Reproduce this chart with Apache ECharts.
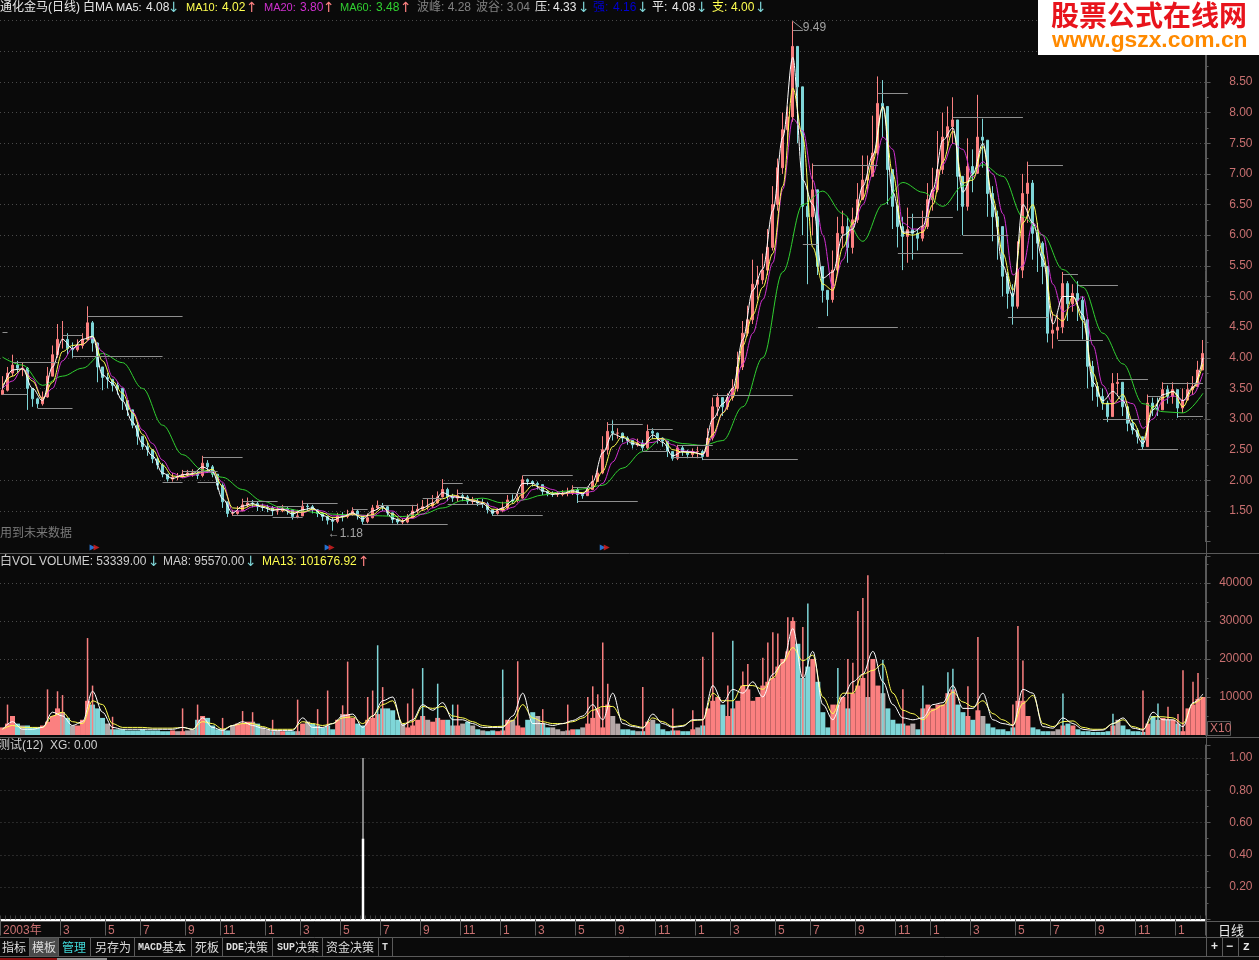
<!DOCTYPE html>
<html><head><meta charset="utf-8">
<script src="https://cdn.jsdelivr.net/npm/echarts@6/dist/echarts.min.js"></script>
<style>html,body{margin:0;padding:0;background:#0a0a0a}#c{width:1259px;height:960px}</style></head>
<body><div id="c"></div>
<script>
// Each bar stands for about five trading days' width of the picture; values read from it.
const closes=[3.47,3.75,3.88,3.83,3.83,3.5,3.33,3.25,3.36,3.7,
4.05,4.3,4.3,4.15,4.13,4.2,4.3,4.57,4.24,3.85,
3.68,3.65,3.55,3.5,3.3,3.15,2.9,2.72,2.55,2.5,
2.35,2.25,2.1,2.02,2.05,2.06,2.1,2.12,2.12,2.08,
2.28,2.22,2.1,1.92,1.65,1.46,1.46,1.5,1.6,1.63,
1.62,1.57,1.56,1.55,1.5,1.5,1.54,1.52,1.41,1.42,
1.58,1.57,1.52,1.46,1.41,1.35,1.33,1.42,1.41,1.44,
1.5,1.42,1.33,1.39,1.55,1.59,1.57,1.47,1.36,1.32,
1.32,1.39,1.5,1.53,1.57,1.58,1.63,1.73,1.85,1.73,
1.71,1.75,1.73,1.66,1.66,1.63,1.62,1.52,1.46,1.5,
1.55,1.68,1.67,1.71,2.01,1.98,1.95,1.93,1.82,1.79,
1.77,1.77,1.79,1.79,1.85,1.77,1.75,1.85,1.98,2.12,
2.5,2.8,2.77,2.77,2.69,2.65,2.58,2.61,2.53,2.8,
2.77,2.69,2.64,2.47,2.36,2.53,2.47,2.42,2.47,2.47,
2.39,2.69,3.2,3.35,3.2,3.35,3.5,3.85,4.4,4.62,
5.2,5.27,5.43,5.8,6.5,7.1,7.72,7.93,9.08,8.42,
6.47,6.3,6.74,5.49,5.1,4.95,5.43,6.03,6.14,5.8,
6.25,6.58,6.9,6.96,7.34,8.15,8.1,7.07,6.47,6.14,
5.98,6.09,6.03,5.95,6.14,6.58,6.74,7.07,7.6,7.77,
7.88,6.96,6.47,7.12,7.01,7.6,7.55,6.68,6.3,6.14,
5.33,5.05,4.84,5.43,6.68,6.85,6.03,5.87,5.49,4.4,
4.45,4.5,5.21,4.88,5.05,4.94,4.62,3.86,3.53,3.37,
3.26,3.04,3.58,3.6,3.2,2.93,2.82,2.71,2.55,3.26,
3.18,3.15,3.48,3.37,3.48,3.18,3.31,3.48,3.53,3.8,4.07];
const highs=[3.7,3.85,4.05,3.95,3.92,3.85,3.5,3.35,3.45,3.85,
4.2,4.55,4.6,4.4,4.25,4.3,4.4,4.84,4.6,4.25,
3.85,3.75,3.65,3.6,3.5,3.3,3.15,2.95,2.7,2.62,
2.5,2.38,2.28,2.1,2.12,2.12,2.17,2.17,2.18,2.15,
2.4,2.33,2.25,2.1,1.95,1.55,1.52,1.58,1.7,1.72,
1.68,1.66,1.62,1.6,1.58,1.58,1.6,1.58,1.52,1.52,
1.67,1.63,1.6,1.53,1.48,1.42,1.4,1.47,1.48,1.52,
1.56,1.52,1.42,1.46,1.6,1.67,1.63,1.58,1.47,1.38,
1.38,1.45,1.6,1.62,1.68,1.7,1.76,1.82,2.02,1.88,
1.78,1.85,1.8,1.76,1.73,1.7,1.7,1.65,1.52,1.55,
1.65,1.76,1.77,1.78,2.08,2.03,2.0,1.98,1.9,1.84,
1.82,1.82,1.84,1.88,1.92,1.88,1.8,1.9,2.08,2.2,
2.72,2.95,2.98,2.85,2.78,2.72,2.66,2.68,2.66,2.91,
2.85,2.78,2.7,2.58,2.48,2.58,2.56,2.5,2.52,2.55,
2.5,2.85,3.35,3.42,3.35,3.42,3.65,4.1,4.6,4.85,
5.6,5.5,5.7,6.1,6.8,7.25,8.0,8.1,9.49,9.0,
7.3,6.8,7.17,6.6,5.35,5.1,5.75,6.3,6.4,6.3,
6.45,6.85,7.3,7.3,7.95,8.59,8.53,8.0,6.9,6.5,
6.3,6.45,6.35,6.1,6.4,6.85,7.1,7.7,8.0,8.1,
8.25,7.6,6.9,7.58,7.4,8.29,7.9,7.4,6.8,6.4,
5.7,5.4,5.2,5.9,7.0,7.2,6.9,6.2,5.9,5.3,
4.75,4.7,5.4,5.25,5.2,5.25,5.0,4.5,3.95,3.6,
3.5,3.3,3.75,3.75,3.6,3.2,3.0,2.85,2.7,3.4,
3.35,3.35,3.6,3.55,3.6,3.45,3.5,3.6,3.7,3.95,4.29];
const lows=[3.4,3.45,3.7,3.75,3.7,3.15,3.2,3.18,3.22,3.35,
3.7,4.0,4.15,4.05,4.0,4.1,4.15,4.3,4.1,3.6,
3.47,3.5,3.45,3.4,3.15,3.05,2.85,2.58,2.5,2.4,
2.28,2.18,2.05,1.98,1.98,2.0,2.04,2.06,2.06,2.02,
2.05,2.12,2.05,1.85,1.55,1.4,1.42,1.44,1.5,1.56,
1.56,1.5,1.5,1.48,1.42,1.44,1.48,1.44,1.36,1.38,
1.42,1.5,1.46,1.4,1.34,1.28,1.18,1.3,1.33,1.38,
1.42,1.36,1.28,1.3,1.38,1.52,1.5,1.42,1.3,1.27,
1.27,1.3,1.38,1.46,1.5,1.52,1.55,1.62,1.72,1.66,
1.65,1.65,1.66,1.6,1.6,1.58,1.55,1.46,1.42,1.44,
1.48,1.52,1.62,1.64,1.7,1.92,1.9,1.85,1.76,1.74,
1.73,1.73,1.74,1.74,1.76,1.63,1.7,1.75,1.84,1.98,
2.1,2.42,2.65,2.68,2.62,2.58,2.52,2.55,2.48,2.5,
2.68,2.6,2.55,2.38,2.32,2.33,2.4,2.36,2.38,2.36,
2.33,2.38,2.65,3.05,3.05,3.15,3.3,3.45,3.8,4.35,
4.55,4.95,5.2,5.35,5.75,6.4,7.0,7.5,7.85,7.5,
6.0,5.2,6.0,5.35,4.9,4.68,4.9,5.35,5.8,5.55,
5.7,6.2,6.6,6.7,7.0,7.3,7.6,6.5,6.1,5.8,
5.43,5.55,5.6,5.75,5.9,6.1,6.4,6.7,7.0,7.4,
7.5,6.4,6.0,6.4,6.7,7.0,7.1,6.3,5.9,5.6,
5.0,4.8,4.54,4.8,5.3,6.2,5.6,5.4,5.2,4.25,
4.15,4.3,4.4,4.6,4.75,4.6,4.3,3.5,3.3,3.2,
3.15,2.95,3.05,3.4,3.05,2.8,2.75,2.6,2.5,2.55,
3.05,3.05,3.2,3.25,3.25,3.02,3.1,3.3,3.4,3.55,3.8];
// Moving averages: ma5, ma10, ma20 read every two bars, ma60 every four bars.
const ma5=[3.5,3.8,3.82,3.5,3.3,3.85,4.3,4.15,4.3,4.35,
3.72,3.58,3.3,2.95,2.6,2.4,2.12,2.03,2.09,2.11,
2.22,2.14,1.7,1.47,1.58,1.62,1.56,1.51,1.53,1.45,
1.52,1.55,1.43,1.35,1.41,1.47,1.37,1.5,1.57,1.38,
1.33,1.47,1.55,1.63,1.8,1.73,1.72,1.66,1.62,1.48,
1.55,1.67,1.95,1.95,1.83,1.77,1.79,1.83,1.78,1.98,
2.45,2.76,2.7,2.6,2.56,2.74,2.62,2.4,2.47,2.46,
2.42,3.0,3.25,3.5,4.3,5.1,5.45,6.4,7.6,8.9,
6.9,6.5,5.3,5.4,6.0,6.1,6.8,7.3,8.1,6.7,
6.05,6.05,6.15,6.75,7.55,7.75,6.7,7.0,7.5,6.5,
5.5,5.0,6.5,6.2,5.6,4.55,5.0,5.0,4.7,3.6,
3.3,3.45,3.3,2.85,2.6,3.15,3.4,3.45,3.3,3.52,4.0];
const ma10=[3.55,3.7,3.82,3.62,3.33,3.6,4.1,4.2,4.22,4.35,
3.95,3.62,3.42,3.1,2.75,2.5,2.25,2.07,2.06,2.1,
2.14,2.18,1.9,1.55,1.54,1.6,1.58,1.53,1.52,1.48,
1.48,1.53,1.47,1.39,1.4,1.45,1.41,1.44,1.55,1.45,
1.34,1.4,1.51,1.6,1.7,1.76,1.72,1.68,1.64,1.53,
1.52,1.62,1.78,1.92,1.88,1.79,1.78,1.81,1.8,1.88,
2.15,2.55,2.72,2.63,2.57,2.68,2.68,2.5,2.46,2.45,
2.43,2.75,3.1,3.35,4.2,4.7,5.15,5.7,6.8,8.4,
7.6,5.8,5.2,5.1,5.8,6.2,6.6,7.2,8.1,7.0,
6.03,6.0,6.05,6.5,7.2,7.7,6.85,6.9,7.45,6.6,
5.7,5.1,6.2,6.5,5.7,4.7,4.6,5.0,4.6,3.75,
3.25,3.25,3.4,2.95,2.66,3.2,3.35,3.45,3.2,3.5,3.9];
const ma20=[3.5,3.62,3.83,3.66,3.33,3.5,3.95,4.15,4.22,4.32,
4.1,3.69,3.52,3.12,2.82,2.6,2.33,2.12,2.04,2.08,
2.12,2.14,1.97,1.5,1.5,1.57,1.6,1.56,1.53,1.5,
1.47,1.52,1.5,1.42,1.42,1.44,1.43,1.42,1.5,1.5,
1.38,1.38,1.45,1.55,1.62,1.74,1.72,1.68,1.64,1.57,
1.5,1.56,1.68,1.85,1.9,1.85,1.78,1.79,1.78,1.82,
1.95,2.3,2.6,2.68,2.6,2.62,2.68,2.58,2.48,2.47,
2.42,2.7,3.1,3.45,3.9,4.4,4.95,5.55,6.75,7.9,
7.7,6.9,6.0,5.15,5.6,6.15,6.5,7.0,7.6,7.4,
6.2,6.1,6.1,6.7,7.15,7.5,7.4,6.95,7.2,7.0,
6.35,5.35,5.5,6.2,6.0,5.2,4.75,4.85,5.0,4.2,
3.55,3.25,3.3,3.25,2.85,3.0,3.3,3.38,3.3,3.4,3.75];
const ma60=[4.01,3.88,3.55,3.7,3.83,4.07,3.92,3.5,2.9,2.42,2.17,2.05,1.85,1.66,1.55,
1.5,1.46,1.44,1.43,1.42,1.41,1.45,1.55,1.67,1.71,1.63,1.68,1.76,1.82,1.86,1.92,
2.2,2.47,2.68,2.6,2.57,2.65,3.2,4.0,5.4,6.5,6.72,6.35,5.9,6.5,6.86,6.7,6.47,6.8,
7.15,6.96,6.3,6.0,5.44,5.15,4.4,3.9,3.25,3.12,3.1,3.42];
// Support / resistance segments: first bar, last bar, price.
const levelFrom=[0,2,0,7,12,17,14,40,36,32,39,48,46,54,55,56,56,60,70,72,75,88,84,91,89,98,104,115,114,121,129,128,135,134,140,142,162,175,163,160,181,179,192,190,201,205,212,215,211,223,220,227,229,232,235];
const levelTo=[1,11,5,14,16,36,32,48,43,36,43,55,54,60,60,59,59,67,73,89,83,92,88,104,96,108,114,127,118,128,134,133,142,140,159,158,175,181,179,163,190,192,201,204,209,212,215,223,220,229,227,235,232,240,240];
const levelPrice=[4.42,3.93,3.41,3.18,4.37,4.68,4.02,2.38,2.15,1.97,1.97,1.66,1.43,1.4,1.57,1.58,1.4,1.63,1.53,1.29,1.6,1.96,1.7,1.79,1.61,1.43,2.08,1.66,1.88,2.92,2.84,2.47,2.58,2.37,2.35,3.39,7.14,8.32,4.5,5.85,6.29,5.71,6.0,7.93,4.66,7.14,5.37,5.18,4.29,3.65,2.99,2.51,3.37,3.59,3.05];
// Volume (thousands on the axis scale): one body per bar, then thin spikes as [bar, value].
const volumes=[2,3,5,3,2.5,2.5,2,2,2.5,3.5,
5,7,6,4.5,2.5,2.5,4,9,8,7,
4.5,3,1.5,1.5,1.5,1.2,1.2,1.2,1.5,1.2,
1.2,1.2,1,1,1.2,1,1,1.2,1.5,4,
5,4.5,2.5,1.5,1.5,1.2,2.5,3,3,3.5,
3.5,3,2,1.5,1,1.2,1,1,1,1,
3,3.5,3,2.5,2,2.5,1.5,4,5.5,5.5,
4.5,3,2.5,4,4.5,5.5,7,7,6.5,4,
3,2,2.5,4,5,4,3.5,4.5,4,4,
2.5,2.5,3,3.5,2.5,1.5,1.2,1,1.2,1,
1.2,4,4,2.5,2,4,6,5,3,2,
2,1.5,1,1.2,1.5,1.5,2,3,4.5,7,
2,8,5,3,1.5,1.5,1.2,1,1,3.5,
4,3,1.5,1,1.2,1.2,1,1,1.5,2,
2.5,7,9,10,8,5,7,9,13,12,
9,10,13,14,15,18,20,22,30,24,
15,18,20,14,6,2,8,8,10,7,
11,13,15,10,20,13,11,7,4,3,
3,2.5,3,1.5,7,8,7,8,8,11,
12,8,6,5,4,6.5,5,3,2,1.5,
1.5,1,2,9,9,5,2,1.5,1,1,
1,1.5,2.5,3,2.5,1.5,1,1,.8,.8,
.8,1,2.5,4,2.5,1.5,1,1,.8,3,
5,4,4.5,4,4,3,1,7,8,9.5,10];
const redSpikes=[[1,8],[9,12],[11,11.5],[12,10.5],[17,25.5],[18,13],[22,4.8],[36,7],[39,8],[44,4.5],[48,6.3],[50,6],[54,4],[59,9.3],[63,6.8],[65,11.7],[68,7.8],[69,19.3],[73,10],[74,11.7],[76,12.6],[81,8.3],[82,12.2],[91,8],[100,10],[103,19.4],[108,6.8],[113,8],[117,10],[118,12.8],[119,10.7],[120,24.3],[121,13.5],[128,12.6],[134,7],[138,6.5],[140,20.6],[142,27],[145,13],[148,16.7],[149,18.7],[152,20.3],[153,24.3],[154,27],[155,26.7],[157,31],[158,31],[160,28.4],[169,20],[170,19],[171,32.6],[172,36],[173,42],[180,12],[193,12.8],[195,25.8],[202,8],[203,28.7],[204,19.6],[228,11.7],[233,7.4],[235,5.5],[236,17],[238,14],[239,16.3]];
const cyanSpikes=[[75,23.6],[84,17.6],[87,13.5],[90,8],[100,17.2],[146,24.8],[161,34.6],[167,17.6],[176,19.8],[184,13],[189,16.5],[190,17.4],[212,10.9],[222,5.6],[231,8.3]];
const volMa8=[1.5,3.5,1.5,1.5,2,6,5,2.5,3.5,11.5,
6,2,1.5,1.5,1.5,1.5,1.5,1.5,2,1.5,
4.5,2,1.2,2.5,3.5,2.5,1.8,1.2,1.2,1.2,
4.5,2,2,3,5,5.5,2,5,9,10,
2.5,4,8,6.5,8.5,4,4,3,2,2,
2,5,11,3,3,2.5,3,3.8,5,8,
4,11,3,2.2,1.8,5.5,3,2,2.3,4,
4,13,8.5,12,11,14,10,16,19,28,
15,22,8,4,10,14,16,22,14,8,
4.5,4,4.5,8,8.5,13,7,7,11,4,
3,2.5,12,11,2.2,1.8,4.5,3,1.5,1.2,
1.3,3,4.5,1.8,1.3,6,4,4,2.2,8.5,10.8];
const volMa13=[1.5,2.5,2,2,2,5,6,3.5,3,9,
8,3,2,2,2,1.8,1.8,1.8,2,1.5,
3.5,3,1.5,2.5,3,3,2.2,1.5,1.5,1.5,
3.5,3,2.5,3,4.5,4.8,3,5,8,9,
3,3.5,7.5,7,7.5,5,4.5,3.5,2.5,2.2,
2.3,3.8,8,4.5,3.5,3,3,3.5,4.5,6.5,
7.5,7.5,4,2.5,2,4.5,3.5,2.2,2.5,3.8,
4,11,9,9,13,13,12,15,19,23,
19.5,21,10,5.6,11,11,16,17,18.7,11,
6.5,5.6,4,6.5,7.8,11.3,8.7,7.4,9,5.6,
4,2.6,8.3,10.4,3,2.2,3.5,3.7,2,1.5,
1.5,3,4,2.2,1.5,4.8,4.8,4.5,3,8.3,10];
// Lower study: the one XG signal, as [bar, value].
const xgFull=[[72,1]];
const xgHalf=[[72,0.5]];
const signalBars=[18,65,120];
// Bottom axis: bar where each month label starts, and its text.
const monthBars=[0,12,21,28,37,44,53,60,68,76,84,92,100,107,115,123,131,139,146,155,162,171,179,186,194,203,210,219,227,235];
const monthTexts=['2003年','3','5','7','9','11','1','3','5','7','9','11','1','3','5','9','11','1','3','5','7','9','11','1','3','5','7','9','11','1'];

const FONT='"Liberation Sans","Noto Sans CJK SC",sans-serif';
const CJK='"Noto Sans CJK SC","Liberation Sans",sans-serif';
const BG='#0a0a0a',RED='#fb8080',CYAN='#7fd6d8',GREY='#b4a8a8',AX='#c87070',LINE='#5a5a5a',DOT='#4a4a4a';
const bars=closes.map((_,i)=>i);
const opens=closes.map((c,i)=>i?closes[i-1]:lows[0]);
const kdata=closes.map((c,i)=>[opens[i],c,Math.min(lows[i],opens[i],c),Math.max(highs[i],opens[i],c)]);
const sparse=(a,s)=>bars.map(i=>i%s===0&&a[i/s]!==undefined?a[i/s]:null);
const thin=(name,c,data,width=1,xi=0,yi=0,smooth=0.35)=>({name,type:'line',data,xAxisIndex:xi,yAxisIndex:yi,connectNulls:true,showSymbol:false,symbol:'none',silent:true,smooth,smoothMonotone:'x',lineStyle:{color:c,width},animation:false});
const volColor=i=>{const d=Math.abs(closes[i]-opens[i])/opens[i];return d<0.012?GREY:(closes[i]>=opens[i]?RED:CYAN)};

const hGrid={show:true,lineStyle:{color:DOT,type:[1,3],width:1},showMinLine:false,showMaxLine:false};
const yBase=(g,min,max,interval,lab,fmt,minorN)=>({type:'value',gridIndex:g,position:'right',min,max,interval,scale:false,
  axisLine:{show:true,onZero:false,lineStyle:{color:LINE}},axisTick:{show:true,length:5,lineStyle:{color:LINE}},
  minorTick:{show:true,splitNumber:minorN,length:3,lineStyle:{color:LINE}},minorSplitLine:{show:false},splitLine:hGrid,
  axisLabel:{show:lab,color:AX,fontFamily:FONT,fontSize:12,align:'right',margin:47,padding:[2,0,0,0],showMinLabel:true,showMaxLabel:true,formatter:fmt}});
const xBase=(g,over)=>Object.assign({type:'category',gridIndex:g,data:bars,boundaryGap:true,axisLine:{show:false},axisTick:{show:false},axisLabel:{show:false},splitLine:{show:false}},over||{});

const t=(text,x,y,fill,font)=>({type:'text',x,y,silent:true,z:20,style:{text,x:0,y:0,fill,font:font||('12px '+FONT),textVerticalAlign:'middle',textAlign:'left'}});
const r=(x,y,width,height,fill,stroke)=>({type:'rect',silent:true,z:15,shape:{x,y,width,height},style:{fill:fill||'transparent',stroke:stroke||null,lineWidth:1}});
const hl=(x1,y,x2,c,w)=>({type:'line',silent:true,z:14,shape:{x1,y1:y,x2,y2:y},style:{stroke:c,lineWidth:w||1}});
const vl=(x,y1,y2,c)=>({type:'line',silent:true,z:14,shape:{x1:x,y1,x2:x,y2},style:{stroke:c,lineWidth:1}});
const DN='↓',UP='↑',AR='14px "DejaVu Sans"',NM='11px '+FONT,BITMAP='bold 10px "Liberation Mono"',TB='12px '+CJK;
const W='#e8e8e8',YEL='#ffff50',MAG='#d030d0',GRN='#30d030',BLU='#0000d0',GY='#808080',STUD='#cfcfcf',TC='#dddddd';
const graphics=[
 t('通化金马(日线)',0,8,W),t('白MA',83,8,W),t('MA5:',116,8,W,NM),t('4.08',146,8,W),t(DN,168,8,CYAN,AR),
 t('MA10:',186,8,YEL,NM),t('4.02',222,8,YEL),t(UP,246,8,RED,AR),
 t('MA20:',264,8,MAG,NM),t('3.80',300,8,MAG),t(UP,323,8,RED,AR),
 t('MA60:',340,8,GRN,NM),t('3.48',376,8,GRN),t(UP,400,8,RED,AR),
 t('波峰: 4.28',417,8,GY),t('波谷: 3.04',476,8,GY),
 t('压:',535,8,W),t('4.33',553,8,W),t(DN,578,8,CYAN,AR),
 t('强:',593,8,BLU),t('4.16',613,8,BLU),t(DN,637,8,CYAN,AR),
 t('平:',652,8,W),t('4.08',672,8,W),t(DN,696,8,CYAN,AR),
 t('支:',712,8,YEL),t('4.00',731,8,YEL),t(DN,755,8,CYAN,AR),
 t('用到未来数据',0,534,'#7a7a7a'),
 t('白VOL',0,562,STUD),t('VOLUME: 53339.00',39,562,STUD),t(DN,148,562,CYAN,AR),
 t('MA8: 95570.00',163,562,STUD),t(DN,245,562,CYAN,AR),t('MA13: 101676.92',262,562,YEL),t(UP,358,562,RED,AR),
 t('测试(12)',-2,746,STUD),t('XG: 0.00',50,746,STUD),
 hl(0,553.5,1259,LINE),hl(0,737.5,1259,LINE),hl(0,921.5,1259,LINE),hl(0,937.5,1259,LINE),hl(0,956.5,1259,LINE),
 vl(1206.5,0,957,LINE),
 r(1207.5,721.5,23,14,null,LINE),t('X10',1210,729,AX),
 t('日线',1218,930,W,'13px '+CJK),vl(1222.5,938,957,LINE),vl(1238.5,938,957,LINE),
 t('+',1211,947,W,'bold 12px '+FONT),t('−',1226,947,W,'bold 12px '+FONT),t('Z',1243,947,W,'bold 11px "Liberation Mono"'),
 r(30,938,28,18,'#4a4a4a'),
 t('指标',2,947,TC,TB),t('模板',32,947,TC,TB),t('管理',62,947,'#40d8d8',TB),
 t('另存为',95,947,TC,TB),t('MACD',138,947,TC,BITMAP),t('基本',162,947,TC,TB),
 t('死板',195,947,TC,TB),t('DDE',226,947,TC,BITMAP),t('决策',244,947,TC,TB),
 t('SUP',277,947,TC,BITMAP),t('决策',295,947,TC,TB),t('资金决策',326,947,TC,TB),
 t('T',382,947,TC,BITMAP),
 vl(29.5,938,957,LINE),vl(58.5,938,957,LINE),vl(90.5,938,957,LINE),vl(134.5,938,957,LINE),vl(191.5,938,957,LINE),vl(222.5,938,957,LINE),vl(272.5,938,957,LINE),vl(322.5,938,957,LINE),vl(378.5,938,957,LINE),vl(392.5,938,957,LINE),
 r(0,958,57,2,'#8a1010'),r(57,958,50,2,'#909090'),
 r(1038,0,221,55,'#ffffff'),
 t('股票公式在线网',1051,15,'#e8141c','bold 28px '+CJK),
 t('www.gszx.com.cn',1052,41,'#ff8a00','bold 22.8px "Liberation Sans"')
];

const chart=echarts.init(document.getElementById('c'),null,{renderer:'canvas'});
chart.setOption({
 backgroundColor:BG,animation:false,
 graphic:{elements:graphics},
 grid:[
  {left:0,width:1205.5,top:0,height:541.64,containLabel:false},
  {left:0,width:1205.5,top:556.3,height:178.7},
  {left:0,width:1205.5,top:745,height:174.5},
  {left:0,width:1205.5,top:542,height:11}
 ],
 xAxis:[
  xBase(0),xBase(1),
  xBase(2,{axisLine:{show:true,onZero:false,lineStyle:{color:'#ffffff',width:2}},
    axisTick:{show:true,length:16,inside:false,customValues:monthBars,lineStyle:{color:LINE}},
    axisLabel:{show:true,customValues:monthBars,align:'left',margin:5,color:AX,fontFamily:FONT,fontSize:12,formatter:v=>monthTexts[monthBars.indexOf(+v)]}}),
  xBase(3),xBase(1),
  xBase(2,{axisTick:{show:true,length:4,interval:0,lineStyle:{color:'#3e3e3e'}}})
 ],
 yAxis:[
  yBase(0,1,9.837,0.5,true,v=>(v>=1.5&&v<=8.5)?v.toFixed(2):'',2),
  yBase(1,0,47000,10000,true,v=>(v>0&&v<=40000)?String(v):'',2),
  yBase(2,0,1.08,0.2,true,v=>(v>0&&v<=1.0001)?v.toFixed(2):'',2),
  {type:'value',gridIndex:3,min:0,max:1,show:false}
 ],
 series:[
  {name:'K',type:'candlestick',data:kdata,barWidth:2.5,silent:true,clip:false,
   itemStyle:{color:RED,color0:CYAN,borderColor:RED,borderColor0:CYAN,borderWidth:1}},
  {name:'levels',type:'line',data:[],silent:true,symbol:'none',
   markLine:{silent:true,symbol:'none',animation:false,label:{show:false},lineStyle:{color:'#8f8f8f',width:1,type:'solid'},
    data:levelPrice.map((p,k)=>[{coord:[levelFrom[k],p]},{coord:[levelTo[k],p]}]).concat([[{coord:[158,9.34]},{coord:[160,9.34]}],[{coord:[158,9.49]},{coord:[160,9.36]}]])}},
  thin('MA60',GRN,sparse(ma60,4)),
  thin('MA20',MAG,sparse(ma20,2)),
  thin('MA10',YEL,sparse(ma10,2)),
  thin('MA5','#ffffff',sparse(ma5,2)),
  {name:'notes',type:'scatter',silent:true,symbolSize:0,z:6,data:[
    {value:[160,9.34],label:{formatter:'9.49',position:'right',distance:0,offset:[0,-3]}},
    {value:[65,1.18],label:{formatter:'←1.18',position:'right',distance:0,offset:[0,3]}}],
   label:{show:true,color:'#c8c8c8',fontFamily:FONT,fontSize:12}},
  {name:'VOL',type:'bar',xAxisIndex:1,yAxisIndex:1,barWidth:5,silent:true,
   data:volumes.map((v,i)=>({value:v*1000,itemStyle:{color:volColor(i)}}))},
  {name:'redSpike',type:'bar',xAxisIndex:4,yAxisIndex:1,barWidth:1.5,silent:true,z:3,itemStyle:{color:RED},
   data:redSpikes.map(p=>[p[0],p[1]*1000])},
  {name:'cyanSpike',type:'bar',xAxisIndex:4,yAxisIndex:1,barWidth:1.5,silent:true,z:3,barGap:'-100%',itemStyle:{color:CYAN},
   data:cyanSpikes.map(p=>[p[0],p[1]*1000])},
  thin('volMA13',YEL,sparse(volMa13.map(v=>v*1000),2),1,1,1),
  thin('volMA8','#ffffff',sparse(volMa8.map(v=>v*1000),2),1,1,1),
  {name:'XG',type:'bar',xAxisIndex:2,yAxisIndex:2,barWidth:1,silent:true,itemStyle:{color:'#ffffff'},data:xgFull},
  {name:'XGh',type:'bar',xAxisIndex:5,yAxisIndex:2,barWidth:2.5,silent:true,itemStyle:{color:'#ffffff'},data:xgHalf},
  {name:'sigBlue',type:'scatter',xAxisIndex:3,yAxisIndex:3,symbol:'triangle',symbolRotate:-90,symbolSize:6,silent:true,itemStyle:{color:'#2a8cff'},data:signalBars.map(b=>[b,0.5])},
  {name:'sigRed',type:'scatter',xAxisIndex:3,yAxisIndex:3,symbol:'triangle',symbolRotate:-90,symbolSize:6,symbolOffset:[4,0],silent:true,itemStyle:{color:'#e02020'},data:signalBars.map(b=>[b,0.5])}
 ]
});
</script></body></html>
